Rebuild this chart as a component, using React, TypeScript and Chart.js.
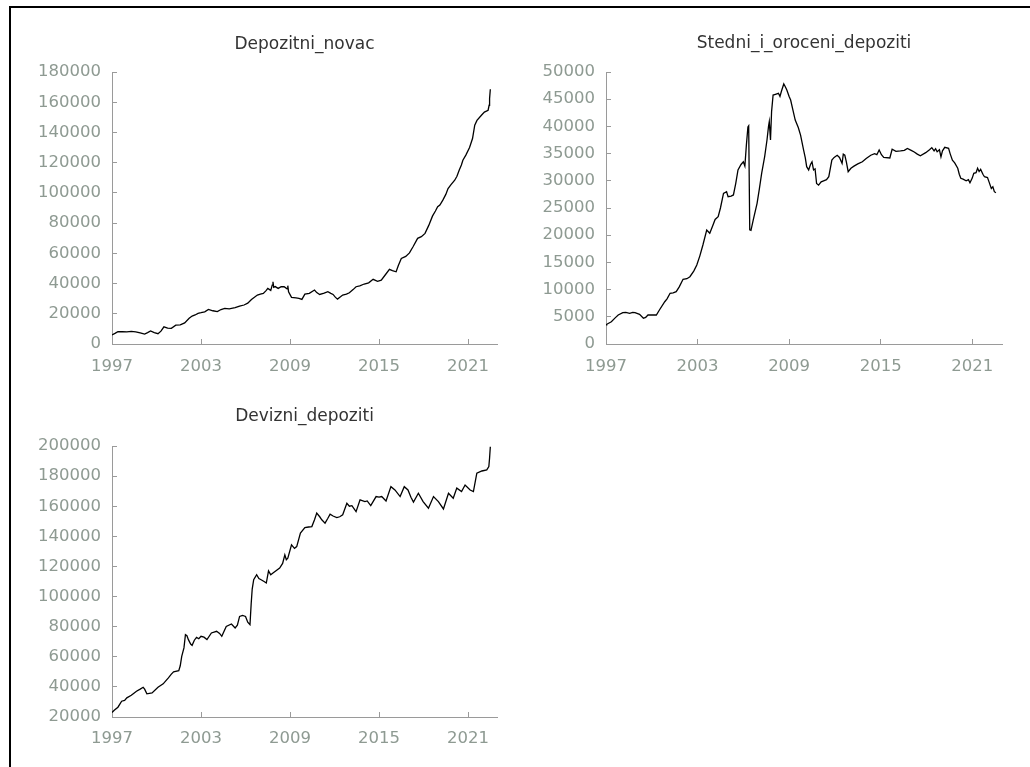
import React, { useEffect, useRef } from "react";
import { Chart, registerables } from "chart.js";

Chart.register(...registerables);

// ---------- data ----------
const yearTicks = [1997, 2003, 2009, 2015, 2021];
const xMin = 1997;
const xMax = 2022.95;

const novacTitle = "Depozitni_novac";
const novacYTicks = [0, 20000, 40000, 60000, 80000, 100000, 120000, 140000, 160000, 180000];
const novacDates = [
  1997.0, 1997.2, 1997.4, 1997.7, 1998.0, 1998.3, 1998.6, 1998.9, 1999.2, 1999.4, 1999.6, 1999.85,
  2000.1, 2000.3, 2000.5, 2000.75, 2001.0, 2001.3, 2001.6, 2001.9, 2002.2, 2002.4, 2002.6, 2002.8,
  2003.0, 2003.25, 2003.5, 2003.8, 2004.1, 2004.35, 2004.6, 2004.9, 2005.3, 2005.6, 2005.9, 2006.15,
  2006.4, 2006.6, 2006.8, 2007.0, 2007.2, 2007.4, 2007.5, 2007.7, 2007.8, 2007.85, 2007.9, 2008.0,
  2008.2, 2008.4, 2008.6, 2008.8, 2008.85, 2008.9, 2009.1, 2009.4, 2009.6, 2009.8, 2010.0, 2010.3,
  2010.65, 2010.8, 2011.0, 2011.3, 2011.55, 2011.75, 2011.9, 2012.05, 2012.2, 2012.4, 2012.55, 2012.8,
  2013.0, 2013.25, 2013.45, 2013.7, 2014.0, 2014.3, 2014.6, 2014.9, 2015.15, 2015.4, 2015.7, 2015.9,
  2016.15, 2016.3, 2016.5, 2016.8, 2017.05, 2017.3, 2017.6, 2017.85, 2018.1, 2018.35, 2018.6, 2018.8,
  2018.95, 2019.1, 2019.3, 2019.5, 2019.65, 2019.85, 2020.1, 2020.25, 2020.4, 2020.55, 2020.65, 2020.85,
  2021.1, 2021.3, 2021.45, 2021.6, 2021.9, 2022.1, 2022.35, 2022.42, 2022.45, 2022.5,
];
const novacValues = [
  6000, 7000, 8100, 8200, 8000, 8300, 8000, 7300, 6600, 7500, 8600, 7500,
  6800, 8500, 11400, 10500, 10400, 12500, 12700, 14000, 17000, 18500, 19200, 20300,
  20700, 21300, 22900, 22000, 21400, 22800, 23600, 23200, 24000, 25000, 25800, 27000,
  29500, 31000, 32400, 33000, 33500, 35500, 36800, 35500, 39000, 41200, 37500, 38000,
  36800, 38000, 37900, 36500, 38600, 34600, 30900, 30500, 30200, 29500, 33000, 33500,
  35700, 34000, 32800, 33600, 34600, 33500, 32800, 31000, 29700, 31200, 32400, 33000,
  33900, 36000, 37900, 38500, 39700, 40500, 42800, 41500, 42300, 45500, 49400, 48500,
  47800, 52000, 56600, 58000, 60300, 64500, 69900, 71000, 73200, 78500, 84600, 88000,
  90800, 92000, 95200, 99000, 102900, 105500, 108400, 111000, 115000, 118500, 121600, 125000,
  130000, 136000, 144800, 148000, 151400, 153500, 154700, 158000, 162400, 168600,
];

const stedniTitle = "Stedni_i_oroceni_depoziti";
const stedniYTicks = [0, 5000, 10000, 15000, 20000, 25000, 30000, 35000, 40000, 45000, 50000];
const stedniDates = [
  1997.0, 1997.05, 1997.35, 1997.6, 1997.8, 1998.1, 1998.3, 1998.55, 1998.75, 1998.9, 1999.2, 1999.45,
  1999.6, 1999.75, 2000.0, 2000.3, 2000.5, 2000.85, 2001.0, 2001.2, 2001.4, 2001.6, 2001.8, 2002.05,
  2002.3, 2002.5, 2002.75, 2002.95, 2003.15, 2003.35, 2003.6, 2003.8, 2004.0, 2004.15, 2004.35, 2004.5,
  2004.7, 2004.9, 2005.0, 2005.2, 2005.35, 2005.5, 2005.65, 2005.85, 2006.0, 2006.1, 2006.2, 2006.3,
  2006.35, 2006.42, 2006.5, 2006.65, 2006.9, 2007.05, 2007.2, 2007.4, 2007.55, 2007.65, 2007.7, 2007.78,
  2007.85, 2007.95, 2008.1, 2008.3, 2008.4, 2008.5, 2008.65, 2008.75, 2008.85, 2009.0, 2009.1, 2009.25,
  2009.4, 2009.6, 2009.75, 2009.95, 2010.06, 2010.15, 2010.28, 2010.4, 2010.5, 2010.6, 2010.7, 2010.8,
  2010.93, 2011.1, 2011.26, 2011.45, 2011.6, 2011.8, 2011.95, 2012.15, 2012.3, 2012.47, 2012.55, 2012.65,
  2012.75, 2012.87, 2013.05, 2013.25, 2013.5, 2013.8, 2014.05, 2014.35, 2014.6, 2014.75, 2014.9, 2015.05,
  2015.2, 2015.6, 2015.75, 2016.0, 2016.3, 2016.55, 2016.75, 2017.0, 2017.2, 2017.4, 2017.6, 2017.95,
  2018.2, 2018.35, 2018.5, 2018.6, 2018.7, 2018.85, 2018.95, 2019.05, 2019.2, 2019.45, 2019.55, 2019.7,
  2019.85, 2020.05, 2020.15, 2020.25, 2020.4, 2020.6, 2020.75, 2020.85, 2021.0, 2021.1, 2021.25, 2021.35,
  2021.45, 2021.55, 2021.7, 2021.8, 2022.0, 2022.1, 2022.25, 2022.35, 2022.45, 2022.55,
];
const stedniValues = [
  3500, 3620, 4100, 4800, 5330, 5750, 5800, 5640, 5800, 5750, 5450, 4720,
  4900, 5330, 5350, 5330, 6250, 7770, 8300, 9320, 9400, 9620, 10500, 11900,
  12000, 12370, 13400, 14520, 16200, 18200, 20950, 20350, 21800, 22900, 23400, 25000,
  27700, 28000, 27070, 27200, 27400, 29500, 32000, 33000, 33500, 32700, 36600, 39900,
  40100, 21000, 20900, 22800, 25860, 28500, 31370, 34500, 37500, 40000, 40860, 37500,
  42700, 45770, 45900, 46080, 45500, 46500, 47800, 47300, 46700, 45500, 44850, 43000,
  41170, 39800, 38400, 35660, 34200, 32600, 32000, 33000, 33500, 32000, 32200, 29500,
  29200, 29800, 30000, 30200, 30750, 33800, 34300, 34700, 34300, 33200, 34900, 34700,
  33500, 31670, 32300, 32700, 33100, 33500, 34100, 34700, 35000, 34800, 35660, 34800,
  34300, 34200, 35800, 35400, 35500, 35600, 35960, 35600, 35300, 34900, 34600, 35170,
  35700, 36100, 35500, 35900, 35340, 35700, 34400, 35500, 36150, 35970, 35000, 33800,
  33300, 32300, 31200, 30450, 30300, 30000, 30200, 29650, 30500, 31370, 31500, 32300,
  31700, 32100, 31200, 30750, 30600, 29800, 28600, 28900, 28000, 27800,
];

const devizniTitle = "Devizni_depoziti";
const devizniYTicks = [20000, 40000, 60000, 80000, 100000, 120000, 140000, 160000, 180000, 200000];
const devizniDates = [
  1997.0, 1997.15, 1997.4, 1997.65, 1997.85, 1998.0, 1998.3, 1998.5, 1998.65, 1998.9, 1999.1, 1999.2,
  1999.35, 1999.7, 2000.1, 2000.45, 2000.8, 2001.0, 2001.15, 2001.5, 2001.6, 2001.7, 2001.85, 2001.95,
  2002.05, 2002.15, 2002.3, 2002.4, 2002.55, 2002.7, 2002.85, 2003.0, 2003.2, 2003.4, 2003.7, 2004.05,
  2004.25, 2004.4, 2004.7, 2005.05, 2005.3, 2005.45, 2005.6, 2005.8, 2006.0, 2006.15, 2006.3, 2006.38,
  2006.45, 2006.55, 2006.75, 2006.9, 2007.05, 2007.25, 2007.4, 2007.55, 2007.7, 2007.85, 2008.1, 2008.3,
  2008.5, 2008.65, 2008.75, 2008.85, 2009.1, 2009.3, 2009.45, 2009.7, 2010.0, 2010.25, 2010.47, 2010.65,
  2010.8, 2011.0, 2011.14, 2011.36, 2011.55, 2011.7, 2011.9, 2012.15, 2012.35, 2012.55, 2012.83, 2013.0,
  2013.17, 2013.45, 2013.72, 2014.05, 2014.2, 2014.44, 2014.8, 2015.0, 2015.18, 2015.47, 2015.8, 2016.07,
  2016.42, 2016.7, 2016.95, 2017.15, 2017.32, 2017.65, 2017.97, 2018.33, 2018.67, 2019.0, 2019.34, 2019.68,
  2020.0, 2020.24, 2020.56, 2020.8, 2021.14, 2021.36, 2021.59, 2021.93, 2022.26, 2022.4, 2022.45, 2022.5,
];
const devizniValues = [
  23000, 24500, 26500, 30500, 31000, 32700, 34450, 36000, 37100, 38500, 39760, 38500,
  35400, 36000, 39760, 42000, 46000, 48500, 50000, 50800, 54000, 60300, 65900, 74700,
  74000, 71400, 68500, 67600, 71000, 72900, 72000, 73600, 73000, 71400, 75800, 76900,
  75500, 73600, 80200, 81800, 79100, 81000, 86800, 87500, 86800, 83000, 81300, 95000,
  105000, 111200, 114500, 112000, 111200, 110000, 109000, 117100, 114500, 115600, 117500, 118900,
  122000, 127700, 124500, 125500, 134400, 132000, 133200, 142100, 145800, 146200, 146500, 151000,
  155400, 153000, 151000, 148800, 152000, 154700, 153500, 152500, 153000, 154300, 162000, 160000,
  160400, 156400, 164200, 163100, 163500, 160400, 166400, 166000, 166400, 163500, 173000, 170800,
  166400, 173000, 170800, 166000, 162700, 168600, 163100, 158700, 166400, 163100, 158200, 168600,
  165300, 172000, 169700, 174100, 170800, 169700, 181900, 183400, 184100, 186300, 192000, 199500,
];

// ---------- styling ----------
const FONT = '"DejaVu Sans", Verdana, sans-serif';
const AXIS_COLOR = "#9a9a9a";
const LABEL_COLOR = "#8e9a92";
const TITLE_COLOR = "#333333";

type PanelProps = {
  title: string;
  dates: number[];
  values: number[];
  yTicks: number[];
  box: { left: number; top: number; width: number; height: number };
  yWidth: number;
  padRight: number;
  padBottom: number;
  titlePad: { top: number; bottom: number };
  xLabelPad: number;
};

function Panel(p: PanelProps) {
  const ref = useRef<HTMLCanvasElement | null>(null);
  useEffect(() => {
    if (!ref.current) return;
    const tickFont = { family: FONT, size: 16.5, weight: "normal" as const };
    const chart = new Chart(ref.current, {
      type: "line",
      data: {
        datasets: [
          {
            data: p.dates.map((x, i) => ({ x, y: p.values[i] })),
            borderColor: "#000000",
            borderWidth: 1.3,
            pointRadius: 0,
            tension: 0,
            fill: false,
          },
        ],
      },
      options: {
        animation: false,
        responsive: false,
        devicePixelRatio: 1,
        layout: { padding: { left: 0, right: p.padRight, top: 0, bottom: p.padBottom } },
        plugins: {
          legend: { display: false },
          tooltip: { enabled: false },
          title: {
            display: true,
            text: p.title,
            fullSize: false,
            color: TITLE_COLOR,
            font: { family: FONT, size: 17, weight: "normal" },
            padding: p.titlePad,
          },
        },
        scales: {
          x: {
            type: "linear",
            min: xMin,
            max: xMax,
            afterBuildTicks: (s: any) => {
              s.ticks = yearTicks.map((v) => ({ value: v }));
            },
            afterFit: (s: any) => {
              s.height = 40;
            },
            grid: { display: true, drawOnChartArea: false, drawTicks: true, tickLength: -5, color: AXIS_COLOR, lineWidth: 1 },
            border: { display: true, color: AXIS_COLOR, width: 1 },
            ticks: {
              color: LABEL_COLOR,
              font: tickFont,
              padding: p.xLabelPad,
              maxRotation: 0,
              autoSkip: false,
              callback: (v: any) => String(v),
            },
          },
          y: {
            type: "linear",
            min: p.yTicks[0],
            max: p.yTicks[p.yTicks.length - 1],
            afterBuildTicks: (s: any) => {
              s.ticks = p.yTicks.map((v) => ({ value: v }));
            },
            afterFit: (s: any) => {
              s.width = p.yWidth;
            },
            grid: { display: true, drawOnChartArea: false, drawTicks: true, tickLength: -5, color: AXIS_COLOR, lineWidth: 1 },
            border: { display: true, color: AXIS_COLOR, width: 1 },
            ticks: {
              color: LABEL_COLOR,
              font: tickFont,
              padding: 16,
              autoSkip: false,
              callback: (v: any) => String(v),
            },
          },
        },
      },
    });
    return () => chart.destroy();
  }, []);
  return (
    <canvas
      ref={ref}
      width={p.box.width}
      height={p.box.height}
      style={{
        position: "absolute",
        left: p.box.left,
        top: p.box.top,
        width: p.box.width,
        height: p.box.height,
        display: "block",
      }}
    />
  );
}

export default function App() {
  return (
    <div
      style={{
        position: "absolute",
        left: 0,
        top: 0,
        width: 1030,
        height: 767,
        background: "#ffffff",
        overflow: "hidden",
      }}
    >
      <div
        style={{
          position: "absolute",
          left: 9,
          top: 6,
          width: 1021,
          height: 761,
          boxSizing: "border-box",
          borderTop: "2px solid #000",
          borderLeft: "2px solid #000",
        }}
      />
      <Panel
        title={novacTitle}
        dates={novacDates}
        values={novacValues}
        yTicks={novacYTicks}
        box={{ left: 10, top: 10, width: 505, height: 380 }}
        yWidth={102}
        padRight={18}
        padBottom={6}
        titlePad={{ top: 24.6, bottom: 17 }}
        xLabelPad={17.7}
      />
      <Panel
        title={stedniTitle}
        dates={stedniDates}
        values={stedniValues}
        yTicks={stedniYTicks}
        box={{ left: 515, top: 10, width: 515, height: 380 }}
        yWidth={91}
        padRight={28}
        padBottom={6}
        titlePad={{ top: 23.8, bottom: 17.8 }}
        xLabelPad={17.7}
      />
      <Panel
        title={devizniTitle}
        dates={devizniDates}
        values={devizniValues}
        yTicks={devizniYTicks}
        box={{ left: 10, top: 390, width: 505, height: 377 }}
        yWidth={102}
        padRight={18}
        padBottom={10}
        titlePad={{ top: 16.3, bottom: 19.3 }}
        xLabelPad={16.7}
      />
    </div>
  );
}
